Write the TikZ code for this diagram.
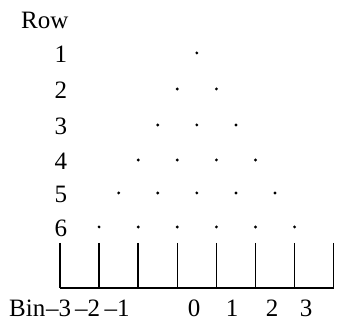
\documentclass[tikz,border=0pt]{standalone}
\usepackage{fontspec}
\setmainfont{Liberation Serif}
\begin{document}
\begin{tikzpicture}[x=1pt,y=-1pt,
  lbl/.style={font=\fontsize{25}{29}\selectfont,inner sep=0pt},
  dot/.style={circle,fill,inner sep=0pt,minimum size=3.2pt},
  bar/.style={line width=1.5pt}]
\useasboundingbox (0,0) rectangle (341,323);
\node[lbl,anchor=base west] (row) at (21,29) {Row};
% rows of dots
\foreach \r/\y in {1/53,2/89,3/125,4/160,5/193,6/227}{
  \node[lbl] (n\r) at (61,\y+1.5) {\r};
  \foreach \k in {1,...,\r}
    \node[dot] (d\r\k) at ({196.85+(\k-(\r+1)/2)*39.1},\y) {};
}
% bins
\foreach \i in {0,...,7}{
  \coordinate (t\i) at ({60+\i*39.1},243);
  \coordinate (b\i) at ({60+\i*39.1},288);
  \draw[bar] (t\i) -- (b\i);
}
\draw[bar] (b0) -- (b7);
\node[lbl,anchor=base west] (bin) at (9,317) {Bin};
\foreach \v/\x [count=\j] in {–3/46,–2/75,–1/104.5}
  \node[lbl,anchor=base west] (bl\j) at (\x,317) {\v};
\foreach \v/\x [count=\j from 4] in {0/194,1/232,2/272,3/306}
  \node[lbl,anchor=base] (bl\j) at (\x,317) {\v};
\end{tikzpicture}
\end{document}
